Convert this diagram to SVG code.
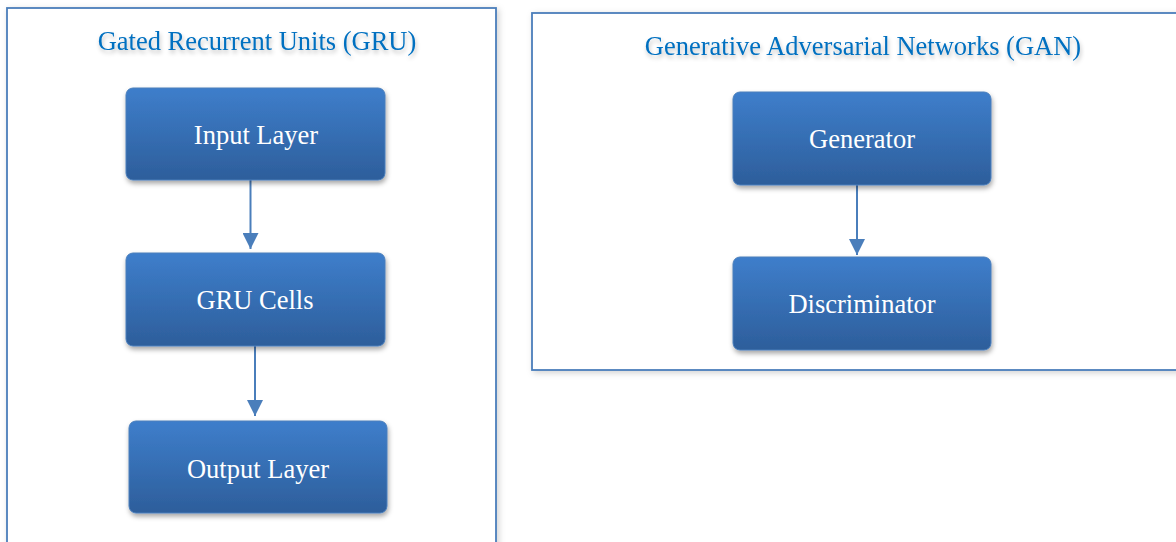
<svg xmlns="http://www.w3.org/2000/svg" width="1176" height="542" viewBox="0 0 1176 542">
<style>
.frame{fill:#ffffff;stroke:#4A7EBB;stroke-width:1.8}
.box{fill:url(#g);stroke:#4A7EBB;stroke-width:1}
.title{font-family:"Liberation Serif","Times New Roman",serif;font-size:26.5px;fill:#0070C0;text-anchor:middle}
.lbl{font-family:"Liberation Serif","Times New Roman",serif;font-size:26.5px;fill:#ffffff;text-anchor:middle}
.conn{stroke:#4A7EBB;stroke-width:2;fill:none}
</style>
<defs>
<linearGradient id="g" x1="0" y1="0" x2="0" y2="1">
<stop offset="0" stop-color="#3E7ECB"/>
<stop offset="1" stop-color="#2D5E9B"/>
</linearGradient>
<filter id="sh" x="-10%" y="-20%" width="130%" height="150%">
<feGaussianBlur in="SourceAlpha" stdDeviation="2.5"/>
<feOffset dx="1" dy="3" result="b"/>
<feFlood flood-color="#000" flood-opacity="0.35"/>
<feComposite in2="b" operator="in"/>
<feMerge><feMergeNode/><feMergeNode in="SourceGraphic"/></feMerge>
</filter>
<filter id="fsh" x="-5%" y="-5%" width="110%" height="110%">
<feGaussianBlur in="SourceAlpha" stdDeviation="3"/>
<feOffset dx="2" dy="2" result="b"/>
<feFlood flood-color="#000" flood-opacity="0.18"/>
<feComposite in2="b" operator="in"/>
<feMerge><feMergeNode/><feMergeNode in="SourceGraphic"/></feMerge>
</filter>
<filter id="tsh" x="-5%" y="-30%" width="110%" height="170%">
<feGaussianBlur in="SourceAlpha" stdDeviation="2"/>
<feOffset dx="1" dy="3" result="b"/>
<feFlood flood-color="#000" flood-opacity="0.25"/>
<feComposite in2="b" operator="in"/>
<feMerge><feMergeNode/><feMergeNode in="SourceGraphic"/></feMerge>
</filter>
<marker id="arr" viewBox="0 0 16 16" refX="16" refY="8" markerWidth="16" markerHeight="16" markerUnits="userSpaceOnUse" orient="auto">
<path d="M0,0 L16,8 L0,16 Z" fill="#4A7EBB"/>
</marker>
</defs>

<g id="gru-frame">
<rect class="frame" x="7" y="8" width="489" height="570" filter="url(#fsh)"/>
<text class="title" x="257" y="50" filter="url(#tsh)">Gated Recurrent Units (GRU)</text>
</g>
<g id="gan-frame">
<rect class="frame" x="532" y="13" width="700" height="357" filter="url(#fsh)"/>
<text class="title" x="863" y="55" filter="url(#tsh)">Generative Adversarial Networks (GAN)</text>
</g>

<g id="connectors">
<line class="conn" x1="250.5" y1="180" x2="250.5" y2="249" marker-end="url(#arr)"/>
<line class="conn" x1="255" y1="346" x2="255" y2="416" marker-end="url(#arr)"/>
<line class="conn" x1="857" y1="185" x2="857" y2="255" marker-end="url(#arr)"/>
</g>

<g id="input-layer">
<rect class="box" x="126" y="88" width="259" height="92" rx="7" filter="url(#sh)"/>
<text class="lbl" x="256" y="144">Input Layer</text>
</g>
<g id="gru-cells">
<rect class="box" x="126" y="253" width="259" height="93" rx="7" filter="url(#sh)"/>
<text class="lbl" x="255" y="309">GRU Cells</text>
</g>
<g id="output-layer">
<rect class="box" x="129" y="421" width="258" height="92" rx="7" filter="url(#sh)"/>
<text class="lbl" x="258" y="478">Output Layer</text>
</g>
<g id="generator">
<rect class="box" x="733" y="92" width="258" height="93" rx="7" filter="url(#sh)"/>
<text class="lbl" x="862" y="148">Generator</text>
</g>
<g id="discriminator">
<rect class="box" x="733" y="257" width="258" height="93" rx="7" filter="url(#sh)"/>
<text class="lbl" x="862" y="313">Discriminator</text>
</g>
</svg>
